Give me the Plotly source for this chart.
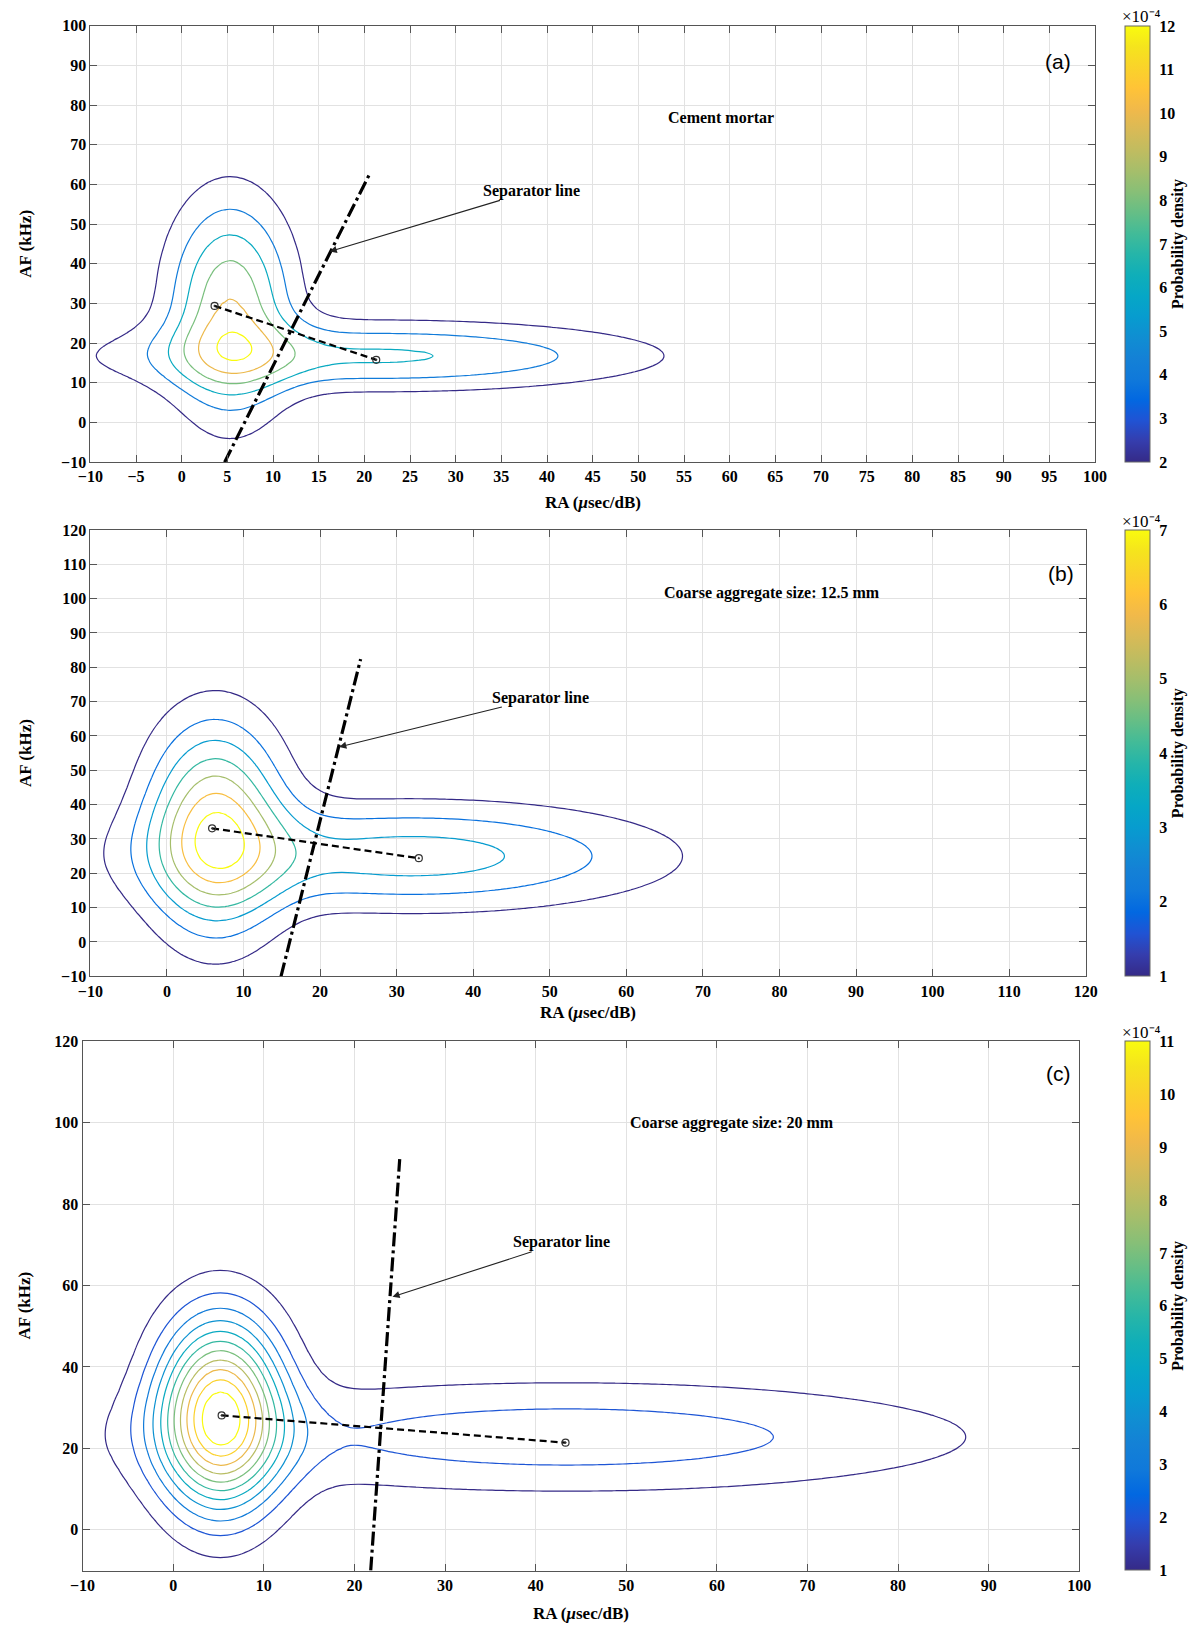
import numpy as np
import plotly.graph_objects as go

W, H = 1203, 1632
SERIF = "Liberation Serif"
SANS = "Liberation Sans"

# MATLAB parula (subsampled)
_PAR = [(0.2081, 0.1663, 0.5292), (0.2081, 0.2386, 0.6771), (0.1253, 0.3242, 0.8303),
        (0.0059, 0.4086, 0.8828), (0.0629, 0.4737, 0.8554), (0.0779, 0.5040, 0.8384),
        (0.0641, 0.5570, 0.8240), (0.0265, 0.6137, 0.8135), (0.0228, 0.6535, 0.7768),
        (0.0590, 0.6838, 0.7254), (0.1453, 0.7098, 0.6646), (0.2586, 0.7317, 0.5954),
        (0.3953, 0.7459, 0.5244), (0.5300, 0.7491, 0.4661), (0.6473, 0.7456, 0.4188),
        (0.7525, 0.7384, 0.3768), (0.8507, 0.7299, 0.3360), (0.9450, 0.7261, 0.2886),
        (0.9990, 0.7653, 0.2164), (0.9789, 0.8271, 0.1633), (0.9589, 0.8949, 0.1132),
        (0.9763, 0.9831, 0.0538)]
PARULA = [[k / (len(_PAR) - 1), "rgb(%d,%d,%d)" % tuple(round(255 * c) for c in col)]
          for k, col in enumerate(_PAR)]

# ---------------- data (probability density in units of 1e-4) ----------------
# Panel (a): cement mortar - two density components (peak, centre, spread)
a_peak = [9.8, 6.23]
a_mx = [5.3, 21.9]
a_my = [29.0, 16.8]
a_sx = [4.6, 20.5]
a_sy = [18.5, 6.0]
a_levels = [2, 4, 6, 8, 10, 12]
a_centres_x = [3.6, 21.3]
a_centres_y = [29.4, 15.8]
a_sep_x = [4.7, 20.5]
a_sep_y = [-10, 62.3]

# Panel (b): coarse aggregate 12.5 mm
b_peak = [6.25, 3.47]
b_mx = [6.3, 32.0]
b_my = [33.5, 25.0]
b_sx = [6.0, 22.4]
b_sy = [20.75, 10.6]
b_levels = [1, 2, 3, 4, 5, 6, 7]
b_centres_x = [5.9, 32.9]
b_centres_y = [33.1, 24.4]
b_sep_x = [14.9, 25.3]
b_sep_y = [-10, 82.4]

# Panel (c): coarse aggregate 20 mm
c_peak = [10.93, 2.58]
c_mx = [5.2, 43.4]
c_my = [28.5, 22.8]
c_sx = [4.7, 32.0]
c_sy = [16.1, 9.66]
c_levels = [1, 2, 3, 4, 5, 6, 7, 8, 9, 10, 11]
c_centres_x = [5.35, 43.3]
c_centres_y = [28.1, 21.4]
c_sep_x = [21.8, 25.0]
c_sep_y = [-10, 91.0]

# axis ranges / ticks
a_xrange, a_yrange, a_xdtick, a_ydtick = [-10, 100], [-10, 100], 5, 10
b_xrange, b_yrange, b_xdtick, b_ydtick = [-10, 120], [-10, 120], 10, 10
c_xrange, c_yrange, c_xdtick, c_ydtick = [-10, 100], [-10, 120], 10, 20

# texts
a_label, b_label, c_label = "(a)", "(b)", "(c)"
a_title = "Cement mortar"
b_title = "Coarse aggregate size: 12.5 mm"
c_title = "Coarse aggregate size: 20 mm"
sep_text = "Separator line"
exp_text = "×10\u207b\u2074"

# pixel boxes of the three axes (left, right, top, bottom)
boxes = [(79, 1105, 18, 459), (79, 1095.5, 527.5, 978.5), (71, 1089, 1044, 1579)]


def density(gx, gy, peak, mx, my, sx, sy):
    X, Y = np.meshgrid(gx, gy)
    Z = np.zeros_like(X)
    for p, ux, uy, ssx, ssy in zip(peak, mx, my, sx, sy):
        Z += p * np.exp(-((X - ux) ** 2) / (2 * ssx ** 2) - ((Y - uy) ** 2) / (2 * ssy ** 2))
    return Z


gx = np.arange(-14, 126, 0.8)
gy = np.arange(-16, 126, 0.8)

panels = [
    dict(peak=a_peak, mx=a_mx, my=a_my, sx=a_sx, sy=a_sy, levels=a_levels,
         cx=a_centres_x, cy=a_centres_y, sepx=a_sep_x, sepy=a_sep_y,
         xr=a_xrange, yr=a_yrange, xd=a_xdtick, yd=a_ydtick,
         label=a_label, label_xy=(96.0, 91.0), title=a_title, title_xy=(59.0, 76.8),
         sep_text_xy=(38.3, 58.4), arrow_tip=(16.2, 43.1)),
    dict(peak=b_peak, mx=b_mx, my=b_my, sx=b_sx, sy=b_sy, levels=b_levels,
         cx=b_centres_x, cy=b_centres_y, sepx=b_sep_x, sepy=b_sep_y,
         xr=b_xrange, yr=b_yrange, xd=b_xdtick, yd=b_ydtick,
         label=b_label, label_xy=(116.8, 107.2), title=b_title, title_xy=(79.0, 101.6),
         sep_text_xy=(48.8, 71.2), arrow_tip=(22.5, 56.8)),
    dict(peak=c_peak, mx=c_mx, my=c_my, sx=c_sx, sy=c_sy, levels=c_levels,
         cx=c_centres_x, cy=c_centres_y, sepx=c_sep_x, sepy=c_sep_y,
         xr=c_xrange, yr=c_yrange, xd=c_xdtick, yd=c_ydtick,
         label=c_label, label_xy=(97.7, 112.1), title=c_title, title_xy=(61.7, 100.0),
         sep_text_xy=(42.8, 70.6), arrow_tip=(24.2, 57.2)),
]

fig = go.Figure()
layout = dict(width=W, height=H, margin=dict(l=0, r=0, t=0, b=0),
              paper_bgcolor="white", plot_bgcolor="white", showlegend=False)
annotations = []
TICKFONT = dict(family=SERIF, size=16, color="black", weight="bold")

for i, p in enumerate(panels):
    n = "" if i == 0 else str(i + 1)
    xa, ya = "x" + n, "y" + n
    left, right, top, bot = boxes[i]
    common = dict(showgrid=True, gridcolor="#e2e2e2", gridwidth=1, zeroline=False,
                  showline=True, linecolor="#555", linewidth=1, mirror="ticks",
                  ticks="inside", ticklen=7, tickcolor="#555", tickfont=TICKFONT, tick0=0)
    layout["xaxis" + n] = dict(domain=[left / W, right / W], anchor=ya, range=p["xr"],
                               dtick=p["xd"], **common)
    layout["yaxis" + n] = dict(domain=[1 - bot / H, 1 - top / H], anchor=xa, range=p["yr"],
                               dtick=p["yd"], **common)

    lv = p["levels"]
    Z = density(gx, gy, p["peak"], p["mx"], p["my"], p["sx"], p["sy"])
    fig.add_trace(go.Contour(
        x=gx, y=gy, z=Z, xaxis=xa, yaxis=ya,
        contours=dict(coloring="lines", start=lv[0], end=lv[-1], size=lv[1] - lv[0]),
        line=dict(width=1.2), colorscale=PARULA, zmin=lv[0], zmax=lv[-1], zauto=False,
        showscale=False, hoverinfo="skip"))

    # separator line
    fig.add_trace(go.Scatter(x=p["sepx"], y=p["sepy"], xaxis=xa, yaxis=ya, mode="lines",
                             line=dict(color="black", width=3.2, dash="14px,4px,3px,4px"),
                             hoverinfo="skip"))
    # centre-connecting dashed line + markers
    fig.add_trace(go.Scatter(x=p["cx"], y=p["cy"], xaxis=xa, yaxis=ya, mode="lines+markers",
                             line=dict(color="black", width=2.2, dash="7px,4px"),
                             marker=dict(symbol="circle-open-dot", size=7, color="#333",
                                         line=dict(width=1.2, color="#333")),
                             hoverinfo="skip"))
    # colorbar (continuous)
    yc = 1 - (top + bot) / 2 / H
    fig.add_trace(go.Scatter(
        x=[None, None], y=[None, None], xaxis=xa, yaxis=ya, mode="markers",
        marker=dict(color=[lv[0], lv[-1]], cmin=lv[0], cmax=lv[-1], colorscale=PARULA,
                    showscale=True, size=1,
                    colorbar=dict(x=1136 / W, xanchor="left", xpad=0, ypad=0,
                                  y=yc, yanchor="middle", len=(bot - top) / H, lenmode="fraction",
                                  thickness=25, thicknessmode="pixels",
                                  outlinewidth=1, outlinecolor="#666",
                                  tickmode="linear", tick0=lv[0], dtick=1,
                                  ticks="outside", ticklen=6, tickcolor="rgba(0,0,0,0)",
                                  tickfont=TICKFONT,
                                  title=dict(text="Probability density", side="right",
                                             font=dict(family=SERIF, size=16, color="black",
                                                       weight="bold")))),
        hoverinfo="skip"))

    # exponent above colorbar
    annotations.append(dict(xref="paper", yref="paper", x=1131 / W, y=1 - (top - 9) / H,
                            xanchor="left", yanchor="middle", showarrow=False,
                            text=exp_text,
                            font=dict(family=SERIF, size=17, color="black")))
    # axis titles
    annotations.append(dict(xref="paper", yref="paper", x=12 / W, y=yc, textangle=-90,
                            xanchor="center", yanchor="middle", showarrow=False,
                            text="AF (kHz)",
                            font=dict(family=SERIF, size=17, color="black", weight="bold")))
    xt_y = [500, 1015, 1622][i]
    annotations.append(dict(xref="paper", yref="paper", x=(left + right) / 2 / W, y=1 - xt_y / H,
                            xanchor="center", yanchor="middle", showarrow=False,
                            text="RA (<i>μ</i>sec/dB)",
                            font=dict(family=SERIF, size=17, color="black", weight="bold")))
    # panel label and title
    annotations.append(dict(xref=xa, yref=ya, x=p["label_xy"][0], y=p["label_xy"][1],
                            showarrow=False, text=p["label"],
                            font=dict(family=SANS, size=21, color="black")))
    annotations.append(dict(xref=xa, yref=ya, x=p["title_xy"][0], y=p["title_xy"][1],
                            showarrow=False, text=p["title"],
                            font=dict(family=SERIF, size=16, color="black", weight="bold")))
    # separator label with arrow pointing at the separator line
    annotations.append(dict(xref=xa, yref=ya, x=p["arrow_tip"][0], y=p["arrow_tip"][1],
                            axref=xa, ayref=ya, ax=p["sep_text_xy"][0], ay=p["sep_text_xy"][1],
                            text=sep_text, showarrow=True, arrowhead=2, arrowsize=1.3,
                            arrowwidth=1.1, arrowcolor="#222", standoff=0, borderpad=0,
                            font=dict(family=SERIF, size=16, color="black", weight="bold")))

layout["annotations"] = annotations
fig.update_layout(**layout)
fig.write_html("out.html")
